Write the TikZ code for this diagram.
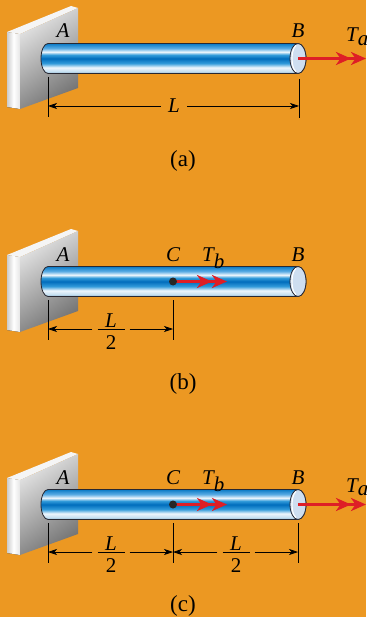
\documentclass[tikz,border=0pt]{standalone}
\usepackage{fontspec}
\setmainfont{Liberation Serif}
\usetikzlibrary{arrows.meta}

\definecolor{bg}{RGB}{236,152,34}
\definecolor{torque}{RGB}{222,30,38}
\definecolor{capblue}{RGB}{206,222,240}
\definecolor{rodedge}{RGB}{40,40,50}
\definecolor{rodbot}{RGB}{150,185,210}
\definecolor{rodpale}{RGB}{200,225,242}
\definecolor{rodwhite}{RGB}{238,246,252}
\definecolor{rodmid}{RGB}{50,155,218}
\definecolor{roddeep}{RGB}{0,108,188}
\definecolor{rodlight}{RGB}{90,172,228}
\definecolor{rodtop}{RGB}{10,122,198}

% bands of the shaft, bottom to top (fitted to the 25bp..75bp window)
\pgfdeclareverticalshading{rodshade}{100bp}{%
  color(0bp)=(rodbot); color(25bp)=(rodbot); color(29bp)=(rodpale);
  color(35bp)=(rodwhite); color(42bp)=(rodmid); color(50bp)=(roddeep);
  color(56bp)=(rodmid); color(61bp)=(rodwhite); color(67bp)=(rodlight);
  color(75bp)=(rodtop); color(100bp)=(rodtop)}

\tikzset{
  lbl/.style={inner sep=0pt, font=\fontsize{21}{24}\selectfont\itshape},
  caption/.style={inner sep=0pt, font=\fontsize{23}{26}\selectfont},
  % the bar of the stacked fraction sits on the node centre
  frac/.style={inner xsep=5pt, inner ysep=0pt, text height=41.6pt, text depth=0pt,
    font=\fontsize{21}{24}\selectfont},
  ext/.style={draw=black, line width=0.8pt},
  dim/.style={draw=black, line width=0.7pt, -{Stealth[length=9pt,width=6pt,inset=2.5pt]}},
  torquearrow/.style={draw=torque, line width=3.6pt,
    -{Stealth[length=15pt,width=13pt,inset=4.5pt] Stealth[length=15pt,width=13pt,inset=4.5pt]}},
  dot/.style={circle, fill=black!85, inner sep=0pt, minimum size=8pt},
  wallside/.style={left color=black!20, right color=black!10, middle color=white},
  walltop/.style={fill=black!4},
  wallfront/.style={top color=black!10, bottom color=black!55, shading angle=35},
  rodbody/.style={shading=rodshade, draw=rodedge, line width=0.8pt},
  capface/.style={fill=capblue, draw=rodedge, line width=0.8pt},
  % fixed wall with the shaft A--B
  wallrod/.pic={
    \fill[wallside] (7,32) -- (20,34) -- (20,109) -- (7,107) -- cycle;
    \fill[walltop] (7,32) -- (71,6) -- (78,8) -- (20,34) -- cycle;
    \shade[wallfront] (20,34) -- (78,8) -- (78,88) -- (20,109) -- cycle;
    \path[rodbody] (48,43.5) -- (298,43.5)
      arc[start angle=90, end angle=-90, x radius=8pt, y radius=15pt]
      -- (48,73.5)
      arc[start angle=270, end angle=90, x radius=7pt, y radius=15pt] -- cycle;
    \path[capface] (298,58.5) ellipse[x radius=8pt, y radius=15pt];
    \draw[white, line width=1.1pt] (295.9,45.4)
      arc[start angle=110, end angle=250, x radius=6pt, y radius=14pt];
    \coordinate (-left) at (48,58.5);
    \coordinate (-right) at (298,58.5);
    \node[lbl, anchor=base] (-A) at (63,38) {A};
    \node[lbl, anchor=base] (-B) at (298,38) {B};
  }
}

% L over 2, with a 27pt bar
\newcommand{\halfL}{\vbox{\hbox to 27pt{\hss\itshape L\hss}\kern2pt
  \hrule height 0.8pt\kern6pt\hbox to 27pt{\hss 2\hss}}}

\begin{document}
\begin{tikzpicture}[x=1pt, y=-1pt]
  \useasboundingbox (0,0) rectangle (366,617);
  \fill[bg] (0,0) rectangle (366,617);

  % ---------- (a) ----------
  \pic (pa) at (0,0) {wallrod};
  \coordinate (pa-Tend) at (366,58.5);
  \draw[torquearrow] (pa-right) -- (pa-Tend);
  \node[lbl, anchor=base west] (pa-Ta) at (346,42) {T$_{\textit{a}}$};
  \coordinate (pa-e1t) at (48,77);  \coordinate (pa-e1b) at (48,117);
  \coordinate (pa-e2t) at (299,79); \coordinate (pa-e2b) at (299,118);
  \draw[ext] (pa-e1t) -- (pa-e1b);
  \draw[ext] (pa-e2t) -- (pa-e2b);
  \node[lbl, inner xsep=7pt] (pa-L) at (174,106) {L};
  \coordinate (pa-d1) at (48,106);
  \coordinate (pa-d2) at (299,106);
  \draw[dim] (pa-L) -- (pa-d1);
  \draw[dim] (pa-L) -- (pa-d2);
  \node[caption] (pa-cap) at (183,161) {(a)};

  % ---------- (b) ----------
  \pic (pb) at (0,223) {wallrod};
  \coordinate (pb-Cpt) at (173,281.5);
  \coordinate (pb-Tend) at (227,281.5);
  \draw[torquearrow] (pb-Cpt) -- (pb-Tend);
  \node[dot] (pb-C) at (pb-Cpt) {};
  \node[lbl, anchor=base] (pb-Clbl) at (173,261) {C};
  \node[lbl, anchor=base west] (pb-Tb) at (202,261) {T$_{\textit{b}}$};
  \coordinate (pb-e1t) at (48,300);  \coordinate (pb-e1b) at (48,340);
  \coordinate (pb-e2t) at (173,300); \coordinate (pb-e2b) at (173,340);
  \draw[ext] (pb-e1t) -- (pb-e1b);
  \draw[ext] (pb-e2t) -- (pb-e2b);
  \node[frac] (pb-L) at (111,329) {\halfL};
  \coordinate (pb-d1) at (48,329);
  \coordinate (pb-d2) at (173,329);
  \draw[dim] (pb-L) -- (pb-d1);
  \draw[dim] (pb-L) -- (pb-d2);
  \node[caption] (pb-cap) at (183,384) {(b)};

  % ---------- (c) ----------
  \pic (pc) at (0,446) {wallrod};
  \coordinate (pc-Tend) at (366,504.5);
  \draw[torquearrow] (pc-right) -- (pc-Tend);
  \node[lbl, anchor=base west] (pc-Ta) at (346,492) {T$_{\textit{a}}$};
  \coordinate (pc-Cpt) at (173,504.5);
  \coordinate (pc-Tbend) at (227,504.5);
  \draw[torquearrow] (pc-Cpt) -- (pc-Tbend);
  \node[dot] (pc-C) at (pc-Cpt) {};
  \node[lbl, anchor=base] (pc-Clbl) at (173,484) {C};
  \node[lbl, anchor=base west] (pc-Tb) at (202,484) {T$_{\textit{b}}$};
  \coordinate (pc-e1t) at (48,523);  \coordinate (pc-e1b) at (48,563);
  \coordinate (pc-e2t) at (173,523); \coordinate (pc-e2b) at (173,563);
  \coordinate (pc-e3t) at (298,523); \coordinate (pc-e3b) at (298,563);
  \draw[ext] (pc-e1t) -- (pc-e1b);
  \draw[ext] (pc-e2t) -- (pc-e2b);
  \draw[ext] (pc-e3t) -- (pc-e3b);
  \node[frac] (pc-L1) at (111,552) {\halfL};
  \node[frac] (pc-L2) at (236,552) {\halfL};
  \coordinate (pc-d1) at (48,552);
  \coordinate (pc-d2) at (173,552);
  \coordinate (pc-d3) at (298,552);
  \draw[dim] (pc-L1) -- (pc-d1);
  \draw[dim] (pc-L1) -- (pc-d2);
  \draw[dim] (pc-L2) -- (pc-d2);
  \draw[dim] (pc-L2) -- (pc-d3);
  \node[caption] (pc-cap) at (183,606) {(c)};
\end{tikzpicture}
\end{document}
